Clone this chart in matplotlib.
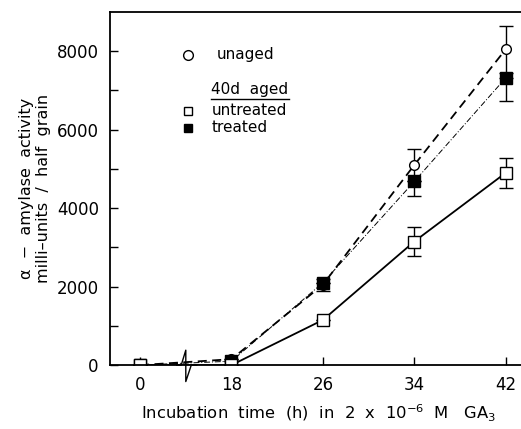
import matplotlib
matplotlib.use("Agg")
import matplotlib.pyplot as plt

# incubation time categories (broken axis between 0 and 18)
hours = ["0", "18", "26", "34", "42"]
xpos = [0, 1, 2, 3, 4]

unaged = [0, 150, 2050, 5100, 8050]
unaged_err = [0, 0, 150, 420, 600]

untreated = [0, 0, 1150, 3150, 4900]
untreated_err = [0, 0, 0, 370, 380]

treated = [0, 100, 2100, 4680, 7320]
treated_err_low = [0, 0, 0, 380, 580]
treated_err_high = [0, 0, 0, 0, 0]

plt.rcParams["font.family"] = ["DejaVu Sans"]

fig = plt.figure(figsize=(5.21, 4.29), dpi=100)
ax = fig.add_axes([0.211, 0.149, 0.80, 0.823])

ax.errorbar(xpos, unaged, yerr=unaged_err, color="black", ls=(0, (5, 3)), lw=1.3,
            marker="o", mfc="white", mec="black", ms=7, capsize=5, elinewidth=1)
ax.errorbar(xpos, treated, yerr=[treated_err_low, treated_err_high], color="black",
            ls=(0, (6, 2, 1, 2)), lw=0.7,
            marker="s", mfc="black", mec="black", ms=8, capsize=5, elinewidth=1)
ax.errorbar(xpos, untreated, yerr=untreated_err, color="black", ls="-", lw=1.3,
            marker="s", mfc="white", mec="black", ms=8, capsize=5, elinewidth=1)

ax.set_xlim(-0.33, 4.23)
ax.set_ylim(0, 9000)
ax.set_xticks(xpos)
ax.set_xticklabels(hours)
ax.set_yticks([0, 2000, 4000, 6000, 8000])
ax.set_yticks([1000, 3000, 5000, 7000], minor=True)
ax.tick_params(direction="in", labelsize=12, length=6, width=1, pad=8)
ax.tick_params(which="minor", direction="in", length=6, width=1)
ax.spines["right"].set_visible(False)
for s in ax.spines.values():
    s.set_linewidth(1.3)

# axis break mark
ax.plot([0.40, 0.45, 0.50, 0.50, 0.56, 0.62], [0, 0, 380, -420, 0, 0],
        color="black", lw=1, clip_on=False)

ax.set_xlabel(r"Incubation  time  (h)  in  2  x  10$^{-6}$  M   GA$_3$", fontsize=11.8, labelpad=6)
ax.set_ylabel("α  −  amylase  activity\nmilli–units  /  half  grain", fontsize=11.5, labelpad=4,
              linespacing=1.2)

# in-plot legend
ax.plot([0.52], [7900], "o", mfc="white", mec="black", ms=7)
ax.text(0.84, 7920, "unaged", fontsize=11, va="center")
ax.text(0.78, 7030, "40d  aged", fontsize=11, va="center")
ax.plot([0.78, 1.63], [6780, 6780], color="black", lw=1)
ax.plot([0.52], [6470], "s", mfc="white", mec="black", ms=6)
ax.text(0.78, 6480, "untreated", fontsize=11, va="center")
ax.plot([0.52], [6040], "s", mfc="black", mec="black", ms=6)
ax.text(0.78, 6050, "treated", fontsize=11, va="center")

fig.savefig("out.png", dpi=100)
